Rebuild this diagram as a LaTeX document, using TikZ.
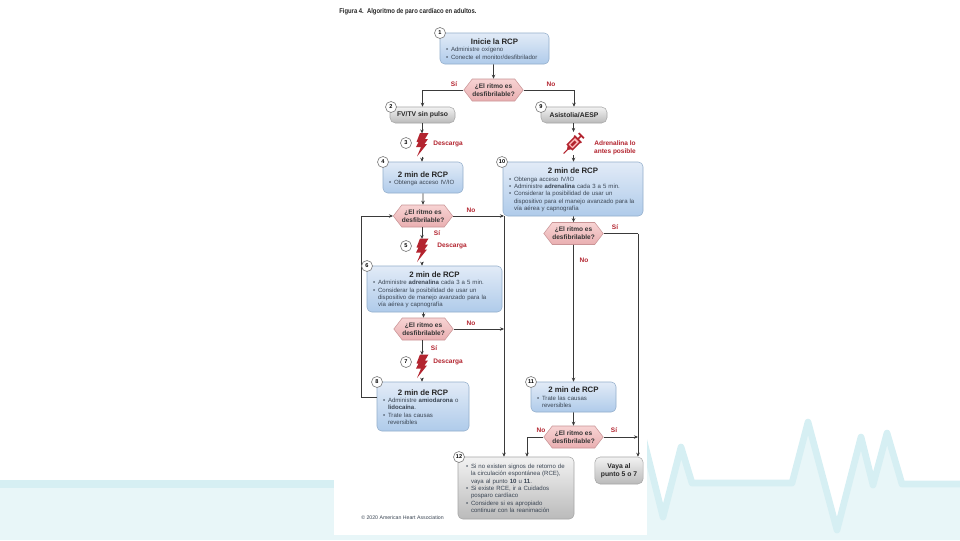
\documentclass[tikz,border=0pt]{standalone}
\usepackage{fontspec}
\setmainfont{Liberation Sans}
\newfontfamily\figurafont[FakeStretch=0.85]{Liberation Sans}
\usetikzlibrary{arrows.meta,shapes.symbols}

\definecolor{fondo}{HTML}{E8F6F8}
\definecolor{latido}{HTML}{D6EFF3}
\definecolor{rojo}{HTML}{B3242F}
\definecolor{linea}{HTML}{3A3A3A}
\definecolor{tinta}{HTML}{3B4654}
\definecolor{azulalto}{HTML}{E2EBF7}
\definecolor{azulbajo}{HTML}{AFCBEA}
\definecolor{azulborde}{HTML}{93AECB}
\definecolor{rosaalto}{HTML}{F7D3D3}
\definecolor{rosabajo}{HTML}{E9AFB1}
\definecolor{rosaborde}{HTML}{C99496}

\newcommand{\titulo}[1]{{\centering\fontsize{5.9}{7.6}\selectfont\bfseries\color{black!85}\rule{0pt}{6.5pt}#1\par}}
\newcommand{\punto}[1]{\par\noindent\makebox[3.75pt][l]{•}\parbox[t]{\dimexpr\linewidth-3.75pt}{\raggedright\strut #1\strut}\par\prevdepth=\dp\strutbox}

\tikzset{
	caja/.style = {rounded corners=3.5pt, line width=0.4pt, inner ysep=0pt, inner xsep=4.5pt, align=left,
		text=tinta, font=\fontsize{4.55}{5.5}\selectfont},
	cajaazul/.style = {caja, draw=azulborde, top color=azulalto, bottom color=azulbajo},
	cajagris/.style = {caja, draw=black!35, top color=black!5, bottom color=black!27},
	pastilla/.style = {cajagris, align=center, text=black!85, font=\fontsize{5.1}{6.2}\selectfont\bfseries, rounded corners=4pt},
	ritmo/.style = {signal, signal to=west and east, signal pointer angle=105,
		draw=rosaborde, line width=0.4pt, top color=rosaalto, bottom color=rosabajo,
		minimum width=42.75pt, minimum height=16.5pt, inner sep=0pt, align=center, text=black!80,
		font=\fontsize{4.9}{6}\selectfont\bfseries},
	numero/.style = {circle, draw=black!50, fill=white, line width=0.5pt, minimum size=8.25pt, inner sep=0pt,
		font=\fontsize{4.2}{5}\selectfont\bfseries},
	etiqueta/.style = {text=rojo, align=center, inner sep=0pt, font=\fontsize{4.9}{6}\selectfont\bfseries},
	enlace/.style = {draw=linea, line width=0.65pt},
	flecha/.style = {enlace, -{Stealth[length=3pt,width=2.6pt]}},
	marca/.style = {minimum width=8pt, minimum height=17pt, inner sep=0pt},
	rayo/.pic = {
		\fill[rojo] (-2,-12) -- (6.5,-12) -- (3,-6) -- (6,-6) -- (2.5,-1) -- (5,-1) -- (-5,11.5) -- (-1,2)
			-- (-6,2) -- (-3.5,-3) -- (-5.5,-3) -- cycle;
	},
	jeringa/.pic = {
		\draw[rojo, line width=1.1pt, fill=red!25!white] (-5,-3.6) rectangle (6,3.6);
		\fill[rojo] (-3,-1.4) rectangle (3,1.4);
		\draw[rojo, line width=1.3pt] (6,-5) -- (6,5) (6,0) -- (11,0) (11,-3.6) -- (11,3.6);
		\fill[rojo] (-5,-3) -- (-8,-1) -- (-8,1) -- (-5,3) -- cycle;
		\draw[rojo, line width=0.8pt] (-8,0) -- (-14,0);
	},
}

\begin{document}
\begin{tikzpicture}[x=0.75pt,y=-0.75pt]
	\useasboundingbox (0,0) rectangle (960,540);

	% fondo
	\fill[fondo] (0,480) rectangle (334,540);
	\fill[latido] (0,480) rectangle (334,488);
	\fill[fondo] (640,425) -- (663,517) -- (681,447) -- (692,483) -- (792,483) -- (808,422) -- (837,530)
		-- (861,437) -- (873,485) -- (887,433) -- (902,484) -- (960,484) -- (960,540) -- (640,540) -- cycle;
	\draw[latido, line width=5pt, line join=round] (640,425) -- (663,517) -- (681,447) -- (692,483) -- (792,483)
		-- (808,422) -- (837,530) -- (861,437) -- (873,485) -- (887,433) -- (902,484) -- (960,484);
	\fill[white] (334,0) rectangle (647,535);
	\fill[fondo] (334,535) rectangle (647,540);

	\node[anchor=west, inner sep=0pt, text=black!85, font=\figurafont\fontsize{5.2}{6}\selectfont\bfseries] (figura) at (339,12)
		{Figura 4.\ \ Algoritmo de paro cardíaco en adultos.};

	% cajas
	\node[cajaazul, text width=72.75pt, minimum height=23.25pt] (caja1) at (494.5,48.5)
		{\titulo{Inicie la RCP}\punto{Administre oxígeno}\punto{Conecte el monitor/desfibrilador}};
	\node[ritmo] (ritmo1) at (493.5,90) {¿El ritmo es\\desfibrilable?};
	\node[pastilla, minimum width=48.75pt, minimum height=12pt] (caja2) at (422.5,115) {FV/TV sin pulso};
	\node[pastilla, minimum width=49.5pt, minimum height=12pt] (caja9) at (574,115) {Asistolia/AESP};

	\node[marca] (rayo3) at (422,145) {};
	\pic at (rayo3) {rayo};
	\node[marca] (jeringa9) at (573.5,143.5) {};
	\pic[rotate=45] at (jeringa9) {jeringa};

	\node[cajaazul, text width=51pt, minimum height=23.25pt] (caja4) at (423,177.5)
		{\titulo{2 min de RCP}\punto{Obtenga acceso IV/IO}};
	\node[cajaazul, text width=96pt, minimum height=40.5pt] (caja10) at (573,189)
		{\titulo{2 min de RCP}\punto{Obtenga acceso IV/IO}\punto{Administre \textbf{adrenalina} cada 3 a 5 min.}%
		\punto{Considerar la posibilidad de usar un\\dispositivo para el manejo avanzado para la\\vía aérea y capnografía}};

	\node[ritmo] (ritmo2) at (423,216) {¿El ritmo es\\desfibrilable?};
	\node[ritmo] (ritmo3) at (573.5,233.5) {¿El ritmo es\\desfibrilable?};

	\node[marca] (rayo5) at (422,250.5) {};
	\pic at (rayo5) {rayo};

	\node[cajaazul, text width=92.25pt, minimum height=34.5pt] (caja6) at (434.5,289)
		{\titulo{2 min de RCP}\punto{Administre \textbf{adrenalina} cada 3 a 5 min.}%
		\punto{Considerar la posibilidad de usar un\\dispositivo de manejo avanzado para la\\vía aérea y capnografía}};
	\node[ritmo] (ritmo4) at (423.5,329) {¿El ritmo es\\desfibrilable?};

	\node[marca] (rayo7) at (422,366.5) {};
	\pic at (rayo7) {rayo};

	\node[cajaazul, text width=60pt, minimum height=36.75pt] (caja8) at (423,406.5)
		{\titulo{2 min de RCP}\punto{Administre \textbf{amiodarona} o\\\textbf{lidocaína}.}\punto{Trate las causas\\reversibles}};
	\node[cajaazul, text width=54.75pt, minimum height=22.5pt] (caja11) at (573.5,397)
		{\titulo{2 min de RCP}\punto{Trate las causas\\reversibles}};
	\node[ritmo] (ritmo5) at (573.5,437) {¿El ritmo es\\desfibrilable?};

	\node[cajagris, inner xsep=6pt, text width=75pt, minimum height=46.5pt] (caja12) at (516,488)
		{\punto{Si no existen signos de retorno de\\la circulación espontánea (RCE),\\vaya al punto \textbf{10} u \textbf{11}.}%
		\punto{Si existe RCE, ir a Cuidados\\posparo cardíaco}\punto{Considere si es apropiado\\continuar con la reanimación}};
	\node[pastilla, minimum width=36pt, minimum height=20.25pt] (vaya) at (619,470.5) {Vaya al\\punto 5 o 7};

	% conectores libres
	\coordinate (unionA) at (504,216);
	\coordinate (unionB) at (504,329);
	\coordinate (unionC) at (638,233.5);
	\coordinate (unionD) at (638,437);
	\coordinate (unionE) at (527,437);
	\coordinate (vueltaA) at (377,397);
	\coordinate (vueltaB) at (361,216);

	\draw[flecha] (caja1.south -| ritmo1) -- (ritmo1);
	\draw[flecha] (ritmo1.west) -| (caja2);
	\draw[flecha] (ritmo1.east) -| (caja9);
	\draw[flecha] (caja2.south -| rayo3) -- (rayo3.north);
	\draw[flecha] (rayo3.south) -- (rayo3.south |- caja4.north);
	\draw[flecha] (caja9.south -| jeringa9) -- (jeringa9.north);
	\draw[flecha] (jeringa9.south) -- (jeringa9.south |- caja10.north);
	\draw[flecha] (caja4) -- (ritmo2);
	\draw[flecha] (ritmo2.south -| rayo5) -- (rayo5.north);
	\draw[flecha] (rayo5.south) -- (rayo5.south |- caja6.north);
	\draw[flecha] (caja6.south -| ritmo4) -- (ritmo4);
	\draw[flecha] (ritmo4.south -| rayo7) -- (rayo7.north);
	\draw[flecha] (rayo7.south) -- (rayo7.south |- caja8.north);
	\draw[flecha] (ritmo2.east) -- (unionA);
	\draw[flecha] (ritmo4.east) -- (unionB);
	\draw[flecha] (unionA) -- (unionA |- caja12.north);
	\draw[flecha] (vueltaA) -| (vueltaB) -- (ritmo2.west);
	\draw[flecha] (caja10.south -| ritmo3) -- (ritmo3);
	\draw[flecha] (ritmo3) -- (caja11);
	\draw[enlace] (ritmo3.east) -- (unionC);
	\draw[flecha] (unionC) -- (unionC |- vaya.north);
	\draw[flecha] (caja11) -- (ritmo5);
	\draw[flecha] (ritmo5.east) -- (unionD);
	\draw[enlace] (ritmo5.west) -- (unionE);
	\draw[flecha] (unionE) -- (unionE |- caja12.north);

	% numeros
	\foreach \n/\x/\y in {1/440/33, 2/391/107, 3/406/143, 4/383/162, 5/406/246, 6/367/266, 7/406/362, 8/377/382,
		9/541/107, 10/502/162, 11/531/382, 12/459/457}
		\node[numero] (num\n) at (\x,\y) {\n};

	% etiquetas
	\node[etiqueta] (si1) at (454,84) {Sí};
	\node[etiqueta] (no1) at (551,84) {No};
	\node[etiqueta] (desc3) at (448,144) {Descarga};
	\node[etiqueta] (adren) at (615,148) {Adrenalina lo\\antes posible};
	\node[etiqueta] (no2) at (471,210) {No};
	\node[etiqueta] (si2) at (437,233) {Sí};
	\node[etiqueta] (desc5) at (452,246) {Descarga};
	\node[etiqueta] (si3) at (615,227) {Sí};
	\node[etiqueta] (no3) at (584,260) {No};
	\node[etiqueta] (no4) at (471,323) {No};
	\node[etiqueta] (si4) at (434,348) {Sí};
	\node[etiqueta] (desc7) at (448,362) {Descarga};
	\node[etiqueta] (no5) at (541,430) {No};
	\node[etiqueta] (si5) at (614,430) {Sí};

	\node[anchor=west, inner sep=0pt, text=tinta, font=\fontsize{3.9}{4.5}\selectfont] (copia) at (361,517.5)
		{© 2020 American Heart Association};
\end{tikzpicture}
\end{document}
